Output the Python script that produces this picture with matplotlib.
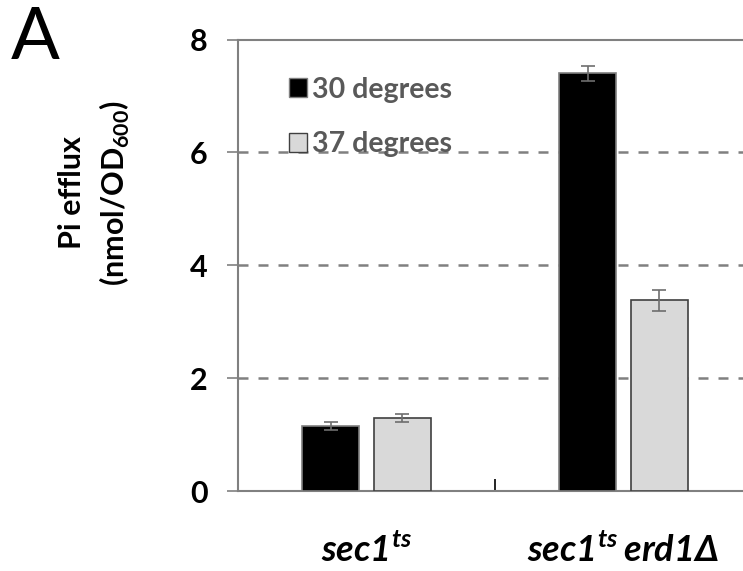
import numpy as np
import matplotlib
matplotlib.use("Agg")
from matplotlib import pyplot as plt
from matplotlib.patches import Patch

plt.rcParams['font.family'] = ['Lato', 'DejaVu Sans']
plt.rcParams['mathtext.fontset'] = 'custom'
plt.rcParams['mathtext.rm'] = 'Lato:bold'
plt.rcParams['mathtext.bf'] = 'Lato:bold'
plt.rcParams['mathtext.sf'] = 'Lato:italic:bold'

### DATA ###
strains = [r"$\mathsf{sec1}^{\mathsf{ts}}$", r"$\mathsf{sec1}^{\mathsf{ts}}\,\mathsf{erd1Δ}$"]
series = ["30 degrees", "37 degrees"]
efflux_30 = [1.16, 7.40]
err_30 = [0.07, 0.13]
efflux_37 = [1.29, 3.38]
err_37 = [0.07, 0.19]

### STYLE ###
colors = ["#000000", "#d9d9d9"]
edges = ["#7f7f7f", "#404040"]
grey = "#808080"
width = 0.225
offset = 0.14

fig = plt.figure(figsize=(7.43, 5.71), dpi=100)
ax = fig.add_axes([0.3203, 0.1396, 0.6918, 0.7912])

x = np.arange(len(strains))
for vals, errs, c, ec, sgn in [(efflux_30, err_30, colors[0], edges[0], -1),
                               (efflux_37, err_37, colors[1], edges[1], 1)]:
    ax.bar(x + sgn * offset, vals, width, color=c, edgecolor=ec, linewidth=1.2, zorder=3)
    ax.errorbar(x + sgn * offset, vals, yerr=errs, fmt='none', ecolor="#6e6e6e",
                elinewidth=1.2, capsize=5, capthick=1.2, zorder=4)

### AXES ###
ax.set_xlim(-0.5, 1.5)
ax.set_ylim(0, 8)
ax.set_yticks([0, 2, 4, 6, 8])
ax.tick_params(axis='y', direction='out', length=8, width=1.2, color=grey,
               labelsize=22, pad=14)
for t in ax.get_yticklabels():
    t.set_fontweight('bold')
for y in [2, 4, 6]:
    ax.axhline(y, color=grey, linestyle=(0, (4, 4)), linewidth=1.8, zorder=1)

ax.set_xticks(x)
ax.set_xticklabels(strains, fontsize=26)
ax.tick_params(axis='x', which='major', length=0, pad=30)
ax.set_xticks([0.5], minor=True)
ax.tick_params(axis='x', which='minor', direction='in', length=9, width=1.2, color='black')

for s in ['left', 'bottom', 'top']:
    ax.spines[s].set_color(grey)
    ax.spines[s].set_linewidth(1.5)
ax.spines['right'].set_visible(False)

### LEGEND ###
handles = [Patch(facecolor=colors[i], edgecolor=edges[i], linewidth=1) for i in range(2)]
leg = ax.legend(handles, series, loc='upper left', bbox_to_anchor=(0.099, 0.918),
                frameon=False, handlelength=0.65, handleheight=0.65,
                handletextpad=0.15, labelspacing=1.0, borderpad=0, borderaxespad=0,
                prop={'weight': 'bold', 'size': 20.5})
for t in leg.get_texts():
    t.set_color("#595959")

### LABELS ###
fig.text(0.128, 0.662, "Pi efflux\n(nmol/OD$_{600}$)", rotation=90, ha='center',
         va='center', fontsize=22, fontweight='bold', multialignment='center',
         linespacing=1.45)
fig.text(0.014, 0.99, "A", fontsize=52, va='top', ha='left')

fig.savefig("out.png", dpi=100)
